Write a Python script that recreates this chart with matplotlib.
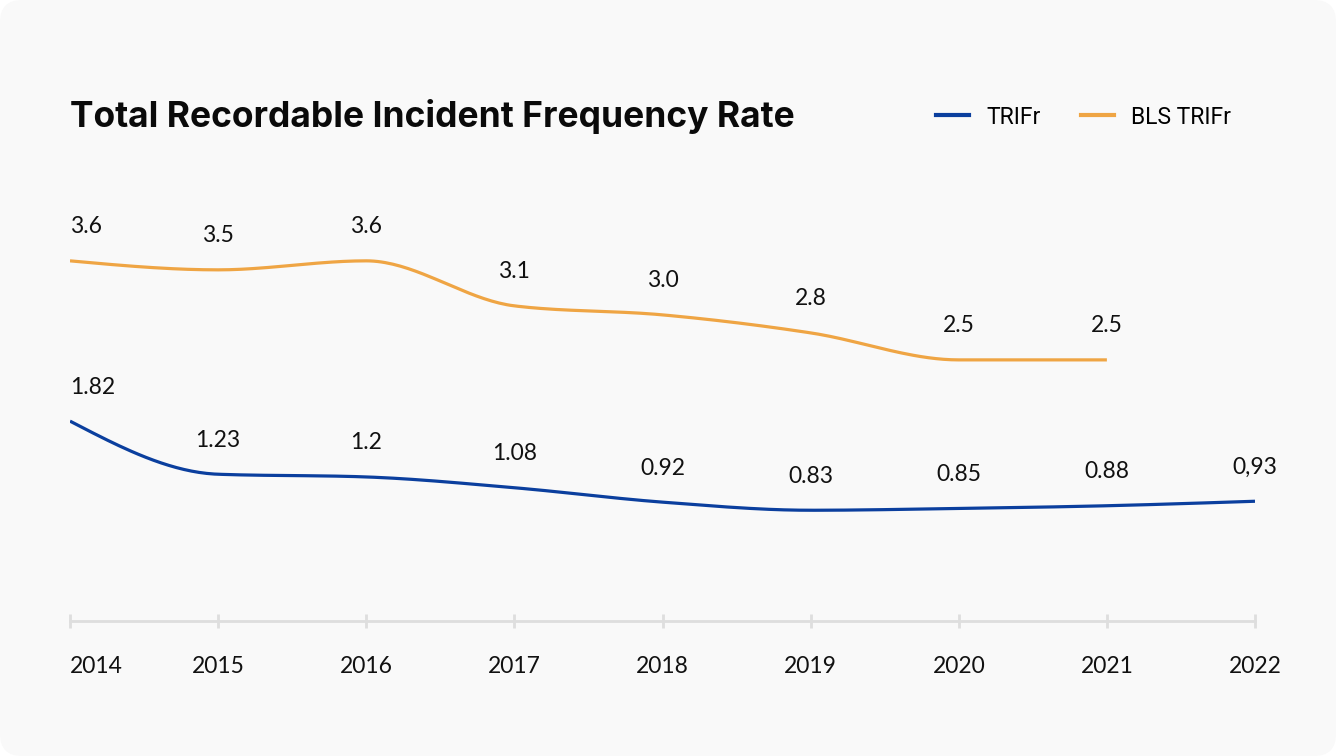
import numpy as np
import matplotlib
matplotlib.use("Agg")
import matplotlib.pyplot as plt
from matplotlib.patches import FancyBboxPatch
from matplotlib.lines import Line2D

# ---- data ----
years = ["2014", "2015", "2016", "2017", "2018", "2019", "2020", "2021", "2022"]
trifr = [1.82, 1.23, 1.2, 1.08, 0.92, 0.83, 0.85, 0.88, 0.93]
trifr_labels = ["1.82", "1.23", "1.2", "1.08", "0.92", "0.83", "0.85", "0.88", "0,93"]
bls = [3.6, 3.5, 3.6, 3.1, 3.0, 2.8, 2.5, 2.5]
bls_labels = ["3.6", "3.5", "3.6", "3.1", "3.0", "2.8", "2.5", "2.5"]

BLUE = "#0b3f9e"
ORANGE = "#efa544"
GRID = "#dedede"


def monotone_x(x, y, n=40):
    """Monotone cubic (d3.curveMonotoneX style) rendering of a polyline."""
    x = np.asarray(x, float)
    y = np.asarray(y, float)
    h = np.diff(x)
    s = np.diff(y) / h
    m = np.zeros_like(y)
    for i in range(1, len(y) - 1):
        s0, s1 = s[i - 1], s[i]
        p = (s0 * h[i] + s1 * h[i - 1]) / (h[i - 1] + h[i])
        m[i] = (np.sign(s0) + np.sign(s1)) * min(abs(s0), abs(s1), 0.5 * abs(p))
    m[0] = (3 * s[0] - m[1]) / 2
    m[-1] = (3 * s[-1] - m[-2]) / 2
    xs, ys = [], []
    for i in range(len(x) - 1):
        t = np.linspace(0, 1, n)
        hh = h[i]
        h00 = 2 * t**3 - 3 * t**2 + 1
        h10 = t**3 - 2 * t**2 + t
        h01 = -2 * t**3 + 3 * t**2
        h11 = t**3 - t**2
        xs.append(x[i] + t * hh)
        ys.append(h00 * y[i] + h10 * hh * m[i] + h01 * y[i + 1] + h11 * hh * m[i + 1])
    return np.concatenate(xs), np.concatenate(ys)


W, H, DPI = 13.36, 7.56, 100
fig = plt.figure(figsize=(W, H), dpi=DPI, facecolor="white")

card = FancyBboxPatch((0, 0), W, H, boxstyle="round,pad=0,rounding_size=0.22",
                      transform=fig.dpi_scale_trans, facecolor="#f9f9f9",
                      edgecolor="none", zorder=-10)
fig.patches.append(card)

ax = fig.add_axes([70 / 1336, 1 - 621 / 756, (1255 - 70) / 1336, (621 - 160) / 756])
ax.set_facecolor("none")
ax.set_zorder(5)

xb = np.arange(len(bls))
xt = np.arange(len(trifr))

bx, by = monotone_x(xb, bls)
tx, ty = monotone_x(xt, trifr)
ax.plot(bx, by, color=ORANGE, lw=2.3, solid_capstyle="butt", zorder=3)
ax.plot(tx, ty, color=BLUE, lw=2.3, solid_capstyle="butt", zorder=3)

lab_font = dict(family="Lato", fontsize=16.5, color="#111111")
for i, (v, s) in enumerate(zip(bls, bls_labels)):
    ax.annotate(s, (xb[i], v), xytext=(0, 17), textcoords="offset points",
                ha="left" if i == 0 else "center", va="bottom", **lab_font)
for i, (v, s) in enumerate(zip(trifr, trifr_labels)):
    ax.annotate(s, (xt[i], v), xytext=(0, 17), textcoords="offset points",
                ha="left" if i == 0 else "center", va="bottom", **lab_font)

ax.set_xlim(0, len(years) - 1)
ax.set_ylim(-0.4, 4.72)
ax.set_xticks(np.arange(len(years)))
ax.set_xticklabels(years)
for sp in ["left", "right", "top"]:
    ax.spines[sp].set_visible(False)
ax.spines["bottom"].set_color(GRID)
ax.spines["bottom"].set_linewidth(2)
ax.set_yticks([])
ax.tick_params(axis="x", direction="inout", length=10, width=2, color=GRID,
               pad=20, labelsize=16.5, labelcolor="#111111")
for lbl in ax.get_xticklabels():
    lbl.set_family("Lato")
ax.get_xticklabels()[0].set_horizontalalignment("left")

fig.text(70 / 1336, 1 - 116 / 756, "Total Recordable Incident Frequency Rate",
         family="Inter", fontweight="bold", fontsize=25.5, color="#0a0a0a",
         ha="left", va="center")

handles = [Line2D([], [], color=BLUE, lw=3), Line2D([], [], color=ORANGE, lw=3)]
fig.legend(handles, ["TRIFr", "BLS TRIFr"], loc="center left",
           bbox_to_anchor=(936 / 1336, 1 - 117 / 756), ncol=2, frameon=False,
           borderpad=0, borderaxespad=0, handlelength=1.45, handletextpad=0.75,
           columnspacing=1.75, prop={"family": "Roboto", "size": 16.5})

fig.savefig("out.png", dpi=DPI, facecolor="white")
